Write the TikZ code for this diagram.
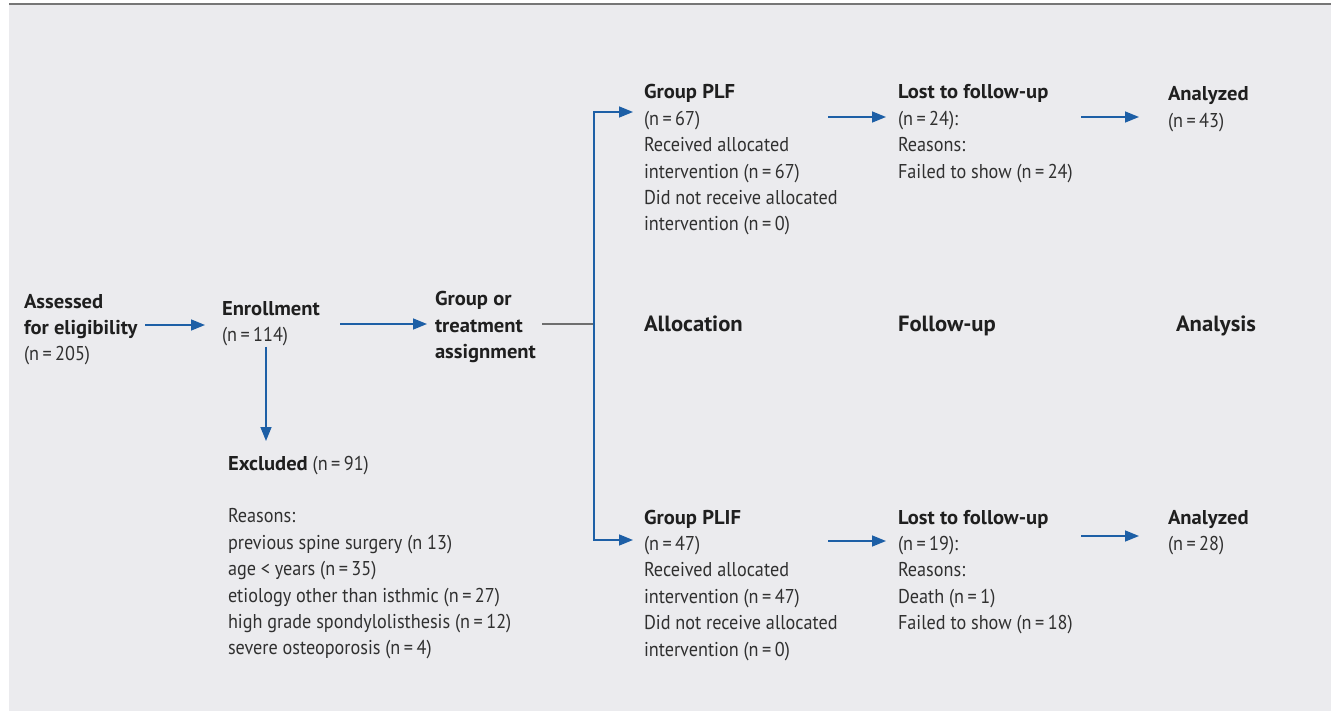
\documentclass[tikz,border=0pt]{standalone}
\usepackage{fontspec}
\setmainfont[FakeStretch=0.91]{PT Sans}
\newfontfamily\headfont[FakeStretch=1.03]{PT Sans}
\usetikzlibrary{arrows.meta}
\definecolor{bg}{HTML}{EBEBEE}
\definecolor{rulegray}{HTML}{767676}
\definecolor{linegray}{HTML}{6E6E6E}
\definecolor{arrowblue}{HTML}{1D5FA6}
\definecolor{txt}{HTML}{303030}
\definecolor{txtb}{HTML}{1F1F1F}
\newcommand\flowhead[1]{\textcolor{txtb}{\headfont\bfseries #1}}
\newcommand\eqsign{\kern3.5pt=\kern3.5pt}
\begin{document}
\begin{tikzpicture}[x=1pt,y=-1pt,
  txtnode/.style={anchor=base west, inner sep=0pt, outer sep=0pt, align=left,
    font=\fontsize{20}{26.4}\selectfont, text=txt},
  phase/.style={anchor=base west, inner sep=0pt, outer sep=0pt,
    font=\fontsize{22}{26.4}\selectfont},
  arr/.style={draw=arrowblue, line width=1.5pt, -{Triangle[length=14pt,width=11pt]}},
  grayline/.style={draw=linegray, line width=1.5pt}]
\useasboundingbox (0,0) rectangle (1331,711);
\fill[bg] (9,5.5) rectangle (1331,711);
\draw[rulegray, line width=2pt] (9,4.5) -- (1331,4.5);

% nodes (anchor = baseline of the last line)
\node[txtnode] (assess) at (24,360.8) {\flowhead{Assessed}\\\flowhead{for eligibility}\\(n\eqsign 205)};
\node[txtnode] (enroll) at (222,341.4) {\flowhead{Enrollment}\\(n\eqsign 114)};
\node[txtnode] (assign) at (435,358.8) {\flowhead{Group or}\\\flowhead{treatment}\\\flowhead{assignment}};
\node[txtnode] (plf) at (644,231) {\flowhead{Group PLF}\\(n\eqsign 67)\\Received allocated\\intervention (n\eqsign 67)\\Did not receive allocated\\intervention (n\eqsign 0)};
\node[txtnode] (lostA) at (898,178.2) {\flowhead{Lost to follow-up}\\(n\eqsign 24):\\Reasons:\\Failed to show (n\eqsign 24)};
\node[txtnode] (anaA) at (1168,127.4) {\flowhead{Analyzed}\\(n\eqsign 43)};
\node[phase] (alloc) at (644,332) {\flowhead{Allocation}};
\node[phase] (follow) at (898,332) {\flowhead{Follow-up}};
\node[phase] (analysis) at (1176,332) {\flowhead{Analysis}};
\node[txtnode] (excl) at (228,654.8) {\flowhead{Excluded} (n\eqsign 91)\\ \\Reasons:\\previous spine surgery (n 13)\\age < years (n\eqsign 35)\\etiology other than isthmic (n\eqsign 27)\\high grade spondylolisthesis (n\eqsign 12)\\severe osteoporosis (n\eqsign 4)};
\node[txtnode] (plif) at (644,656) {\flowhead{Group PLIF}\\(n\eqsign 47)\\Received allocated\\intervention (n\eqsign 47)\\Did not receive allocated\\intervention (n\eqsign 0)};
\node[txtnode] (lostB) at (898,629.6) {\flowhead{Lost to follow-up}\\(n\eqsign 19):\\Reasons:\\Death (n\eqsign 1)\\Failed to show (n\eqsign 18)};
\node[txtnode] (anaB) at (1168,550.4) {\flowhead{Analyzed}\\(n\eqsign 28)};

% connector coordinates
\coordinate (a1) at (145,325);
\coordinate (a2) at (340,324);
\coordinate (gs) at (542,324);
\coordinate (split) at (594,324);
\coordinate (plfin) at (633,112);
\coordinate (plifin) at (633,540);
\coordinate (ed) at (266,347);
\coordinate (exin) at (266,441);
\coordinate (pa) at (828,117);
\coordinate (la) at (1081,117);
\coordinate (pb) at (828,541);
\coordinate (lb) at (1081,536);

% connectors
\draw[arr, shorten >=17pt] (a1) -- (a1 -| enroll.west);
\draw[arr, shorten >=8pt] (a2) -- (a2 -| assign.west);
\draw[grayline] (gs) -- (split);
\draw[arr] (split) |- (plfin);
\draw[arr] (split) |- (plifin);
\draw[arr] (ed) -- (exin);
\draw[arr, shorten >=12pt] (pa) -- (pa -| lostA.west);
\draw[arr, shorten >=29pt] (la) -- (la -| anaA.west);
\draw[arr, shorten >=12pt] (pb) -- (pb -| lostB.west);
\draw[arr, shorten >=29pt] (lb) -- (lb -| anaB.west);
\end{tikzpicture}
\end{document}
